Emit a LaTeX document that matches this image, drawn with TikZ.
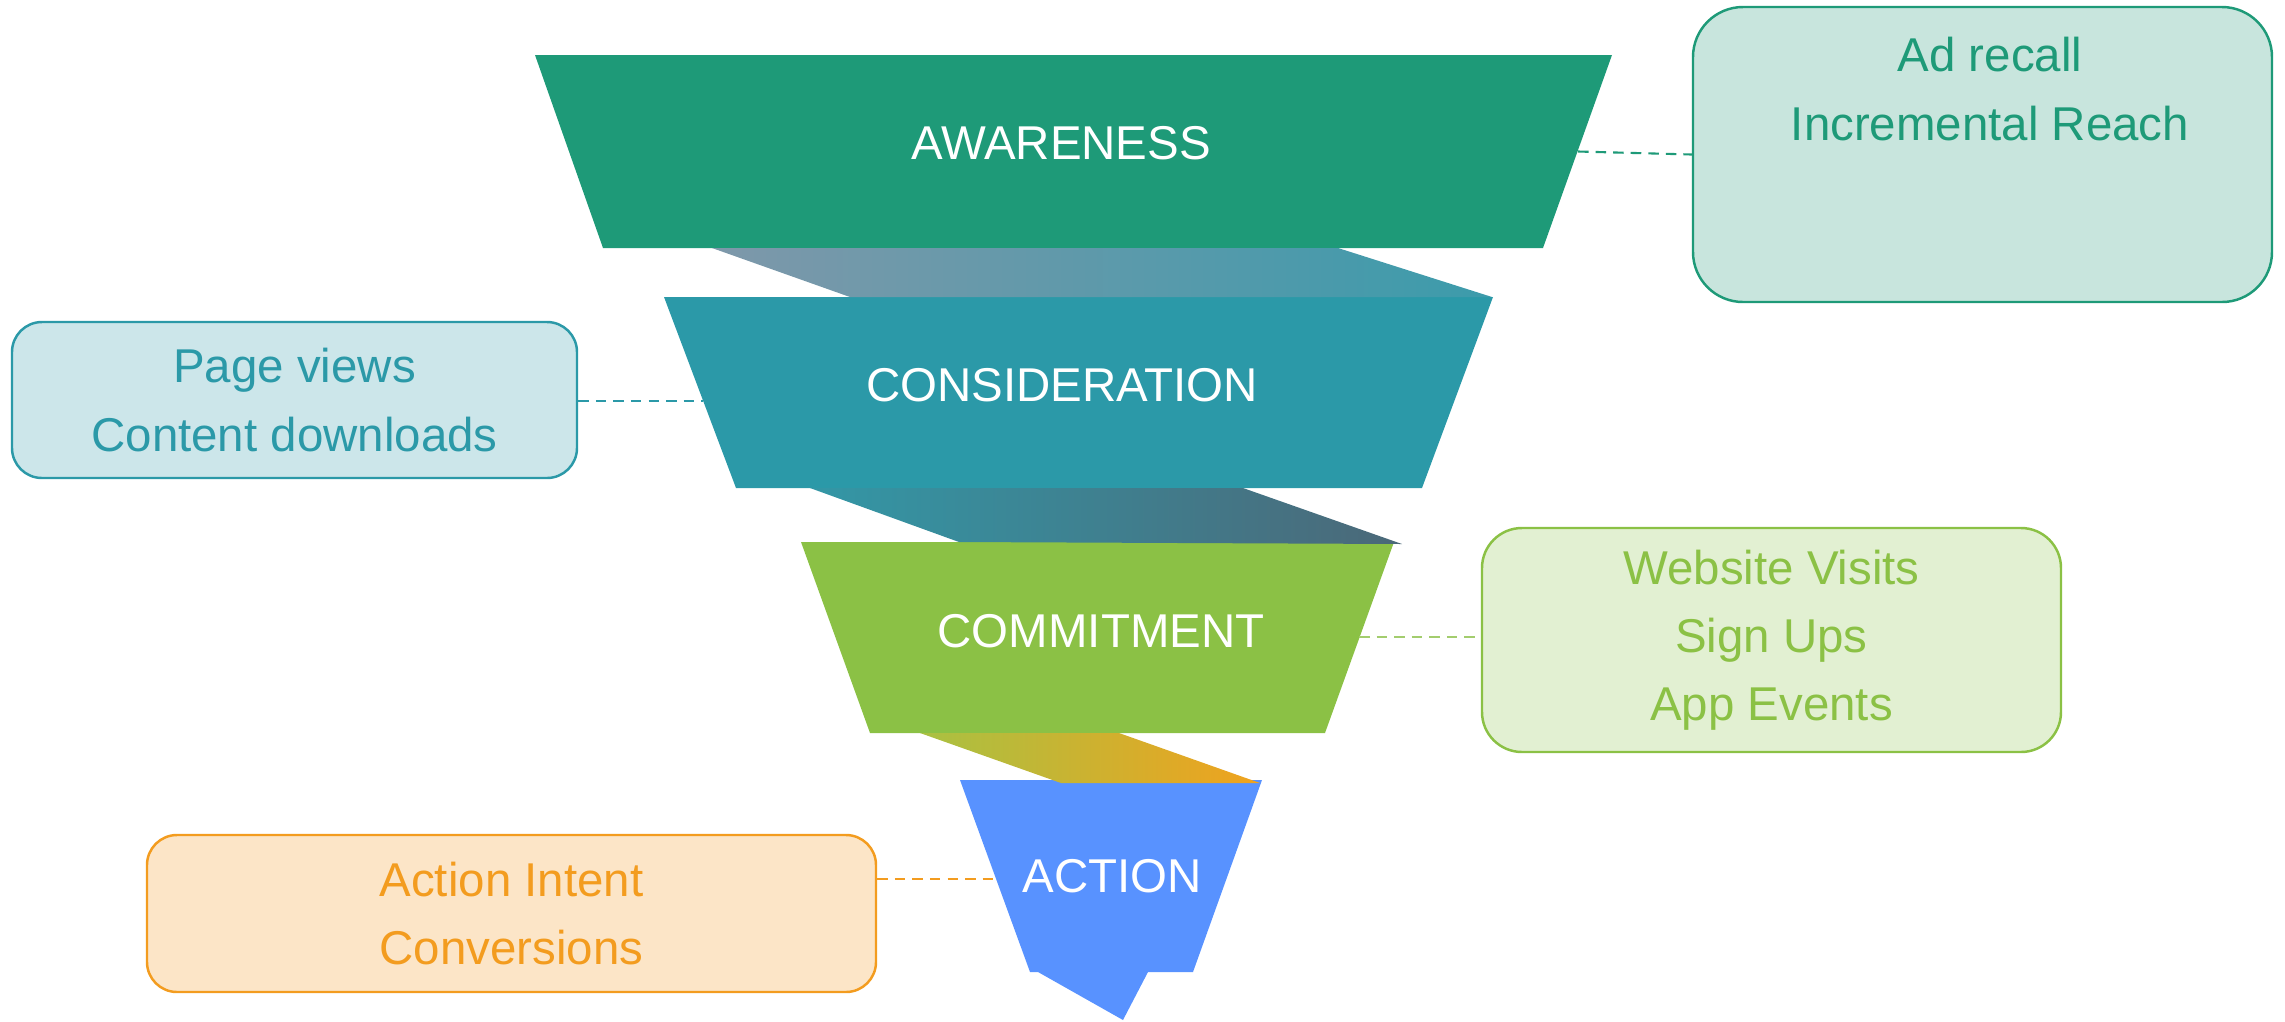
\documentclass[tikz,border=0pt]{standalone}
\usepackage{fontspec}
\setmainfont{Liberation Sans}
\usepackage{xcolor}
\usepackage{tikz}
\usetikzlibrary{positioning}
\definecolor{awgreen}{HTML}{1E9A78}
\definecolor{awfill}{HTML}{C8E5DD}
\definecolor{consteal}{HTML}{2B99A8}
\definecolor{consfill}{HTML}{CCE6EA}
\definecolor{comgreen}{HTML}{8BC145}
\definecolor{comfill}{HTML}{E2F0D2}
\definecolor{comlink}{HTML}{A3CD6E}
\definecolor{actblue}{HTML}{5892FF}
\definecolor{actorange}{HTML}{F39C1F}
\definecolor{actfill}{HTML}{FCE5C7}
\definecolor{ribA1}{HTML}{7E98AA}
\definecolor{ribA2}{HTML}{3C9BAB}
\definecolor{ribB1}{HTML}{3397A6}
\definecolor{ribB2}{HTML}{4B6878}
\definecolor{ribC1}{HTML}{A9C142}
\definecolor{ribC2}{HTML}{F0A21E}

\begin{document}
\begin{tikzpicture}[font=\fontsize{13.5}{19.4}\selectfont,
  bandlabel/.style={text=white, inner sep=0pt},
  metricbox/.style={draw, line width=0.7pt, align=center, inner sep=0pt},
  link/.style={dash pattern=on 3pt off 2pt, line width=0.6pt}]
  \useasboundingbox (0,0) rectangle (22.85,-10.21);

  % Awareness
  \fill[awgreen] (5.35,-0.55) -- (16.12,-0.55) -- (15.43,-2.48) -- (6.03,-2.48) -- cycle;
  \node[bandlabel] (awlabel) at (10.61,-1.43) {AWARENESS};

  % Consideration
  \fill[consteal] (6.64,-2.97) -- (14.93,-2.97) -- (14.22,-4.88) -- (7.36,-4.88) -- cycle;
  \node[bandlabel] (conslabel) at (10.62,-3.855) {CONSIDERATION};

  % Commitment
  \fill[comgreen] (8.01,-5.42) -- (13.94,-5.42) -- (13.25,-7.33) -- (8.70,-7.33) -- cycle;
  \node[bandlabel] (comlabel) at (11.01,-6.31) {COMMITMENT};

  % Action, with its tail
  \fill[actblue] (9.60,-7.80) -- (12.62,-7.80) -- (11.93,-9.72) -- (11.48,-9.72)
    -- (11.23,-10.20) -- (10.38,-9.72) -- (10.30,-9.72) -- cycle;
  \node[bandlabel] (actlabel) at (11.125,-8.76) {ACTION};

  % Ribbons between the bands
  \shade[left color=ribA1, right color=ribA2] (7.12,-2.48) -- (13.38,-2.48) -- (14.92,-2.97) -- (8.50,-2.97) -- cycle;
  \shade[left color=ribB1, right color=ribB2] (8.10,-4.88) -- (12.43,-4.88) -- (14.02,-5.44) -- (9.59,-5.42) -- cycle;
  \shade[left color=ribC1, right color=ribC2] (9.20,-7.33) -- (11.19,-7.33) -- (12.60,-7.83) -- (10.61,-7.83) -- cycle;

  % Metric boxes
  \node[metricbox, draw=awgreen, fill=awfill, minimum width=5.79cm, minimum height=2.95cm,
    rounded corners=0.5cm] (awbox) at (19.825,-1.545) {};
  \node[text=awgreen, align=center, inner sep=0pt] (awtext) at (19.9,-0.89) {Ad recall\\Incremental Reach};
  \node[metricbox, draw=consteal, fill=consfill, text=consteal, minimum width=5.65cm, minimum height=1.56cm,
    rounded corners=0.3cm] (consbox) at (2.945,-4.00) {Page views\\Content downloads};
  \node[metricbox, draw=comgreen, fill=comfill, text=comgreen, minimum width=5.79cm, minimum height=2.24cm,
    rounded corners=0.4cm] (combox) at (17.715,-6.40) {Website Visits\\Sign Ups\\App Events};
  \node[metricbox, draw=actorange, fill=actfill, text=actorange, minimum width=7.29cm, minimum height=1.57cm,
    rounded corners=0.3cm] (actbox) at (5.115,-9.135) {Action Intent\\Conversions};

  % Dashed links
  \coordinate (aw-e) at (15.78,-1.515);
  \coordinate (cons-w) at (7.03,-4.01);
  \coordinate (com-e) at (13.59,-6.37);
  \coordinate (act-w) at (9.97,-8.79);
  \draw[link, awgreen] (aw-e) -- (awbox.west);
  \draw[link, consteal] (cons-w -| consbox.east) -- (cons-w);
  \draw[link, comlink] (com-e) -- (com-e -| combox.west);
  \draw[link, actorange] (actbox.east |- act-w) -- (act-w);
\end{tikzpicture}
\end{document}
